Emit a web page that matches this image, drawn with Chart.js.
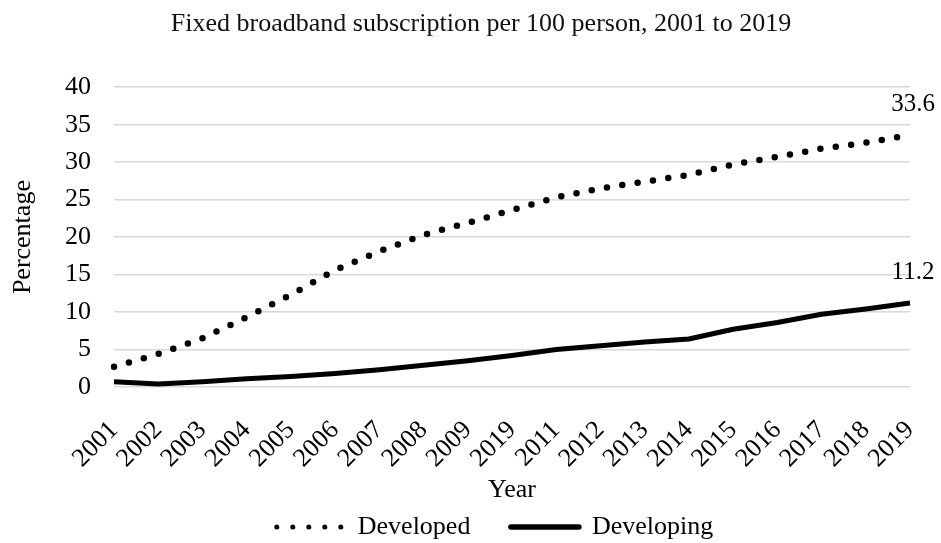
<!DOCTYPE html>
<html>
<head>
<meta charset="utf-8">
<script src="https://cdn.jsdelivr.net/npm/chart.js@4/dist/chart.umd.min.js"></script>
<style>
  html, body { margin:0; padding:0; background:#fff; }
  #wrap { width:941px; height:543px; position:relative; }
</style>
</head>
<body>
<div id="wrap"><canvas id="chart"></canvas></div>
<script>
// categories as printed on the source chart (2019 appears twice there)
var YEARS = ['2001','2002','2003','2004','2005','2006','2007','2008','2009','2019',
             '2011','2012','2013','2014','2015','2016','2017','2018','2019'];
var DEVELOPED  = [2.7, 4.4, 6.5, 9.3, 12.3, 15.6, 18.1, 20.3, 21.9, 23.6,
                  25.3, 26.5, 27.4, 28.3, 29.7, 30.7, 31.8, 32.6, 33.6];
var DEVELOPING = [0.7, 0.4, 0.7, 1.1, 1.4, 1.8, 2.3, 2.9, 3.5, 4.2,
                  5.0, 5.5, 6.0, 6.4, 7.7, 8.6, 9.7, 10.4, 11.2];
var Y_TICKS = [0, 5, 10, 15, 20, 25, 30, 35, 40];

var SERIF = '"Liberation Serif", "Times New Roman", serif';
var FS = 26;

var tweaks = {
  id:'tweaks',
  afterLayout:function(chart){
    // title and legend sit a little right of centre in the source
    chart.titleBlock.left += 26; chart.titleBlock.right += 26;
    chart.legend.left += 40; chart.legend.right += 40;
  },
  // value labels over the last point of each line
  afterDatasetsDraw:function(chart){
    var ctx = chart.ctx;
    ctx.save();
    ctx.font = '25px ' + SERIF;
    ctx.fillStyle = '#000';
    ctx.textAlign = 'center';
    ctx.textBaseline = 'middle';
    chart.data.datasets.forEach(function(ds, i){
      var meta = chart.getDatasetMeta(i);
      var last = meta.data[meta.data.length-1];
      ctx.fillText(ds.data[ds.data.length-1].toFixed(1), last.x + 3, last.y - 31);
    });
    ctx.restore();
  }
};

new Chart(document.getElementById('chart'), {
  type:'line',
  data:{
    labels: YEARS,
    datasets:[{
      label:'Developed',
      data: DEVELOPED,
      borderColor:'#000',
      borderWidth:6.5,
      borderDash:[0, 15.5],
      borderCapStyle:'round',
      pointRadius:0,
      tension:0
    },{
      label:'Developing',
      data: DEVELOPING,
      borderColor:'#000',
      borderWidth:5,
      borderJoinStyle:'round',
      pointRadius:0,
      tension:0
    }]
  },
  options:{
    responsive:true, maintainAspectRatio:false, animation:false,
    layout:{padding:{left:0, right:31, top:0, bottom:0}},
    plugins:{
      title:{display:true, text:'Fixed broadband subscription per 100 person, 2001 to 2019',
        color:'#111', font:{family:SERIF, size:FS, weight:'normal'}, padding:{top:9, bottom:47}},
      legend:{
        position:'bottom',
        maxHeight:37,
        labels:{
          color:'#000', font:{family:SERIF, size:FS}, usePointStyle:true, pointStyleWidth:68,
          boxHeight:FS, padding:8,
          generateLabels:function(chart){
            return [
              {text:'Developed     ', strokeStyle:'#000', fillStyle:'#000', lineWidth:5, lineDash:[0, 16],
               lineCap:'round', pointStyle:'line', datasetIndex:0, hidden:false},
              {text:'Developing', strokeStyle:'#000', fillStyle:'#000', lineWidth:5.5, lineDash:[],
               lineCap:'round', pointStyle:'line', datasetIndex:1, hidden:false}
            ];
          }
        }
      },
      tooltip:{enabled:false}
    },
    scales:{
      x:{
        offset:false,
        grid:{display:false, drawTicks:false},
        border:{display:false},
        afterFit:function(scale){
          scale.height = 543 - 387 - scale.chart.legend.height;
          scale.paddingLeft = 0; scale.paddingRight = 0;
        },
        ticks:{color:'#000', font:{family:SERIF, size:FS}, maxRotation:45, minRotation:45, padding:28, autoSkip:false},
        title:{display:true, text:'Year', color:'#000', font:{family:SERIF, size:FS}, padding:{top:0, bottom:0}}
      },
      y:{
        min:0, max:40,
        afterBuildTicks:function(scale){ scale.ticks = Y_TICKS.map(function(v){ return {value:v}; }); },
        afterFit:function(scale){ scale.width = 114; },
        grid:{color:'#d9d9d9', lineWidth:1.5, drawTicks:false},
        border:{display:false},
        ticks:{color:'#000', font:{family:SERIF, size:FS}, padding:23},
        title:{display:true, text:'Percentage', color:'#000', font:{family:SERIF, size:FS}, padding:{top:8, bottom:0}}
      }
    }
  },
  plugins:[tweaks]
});
</script>
</body>
</html>
